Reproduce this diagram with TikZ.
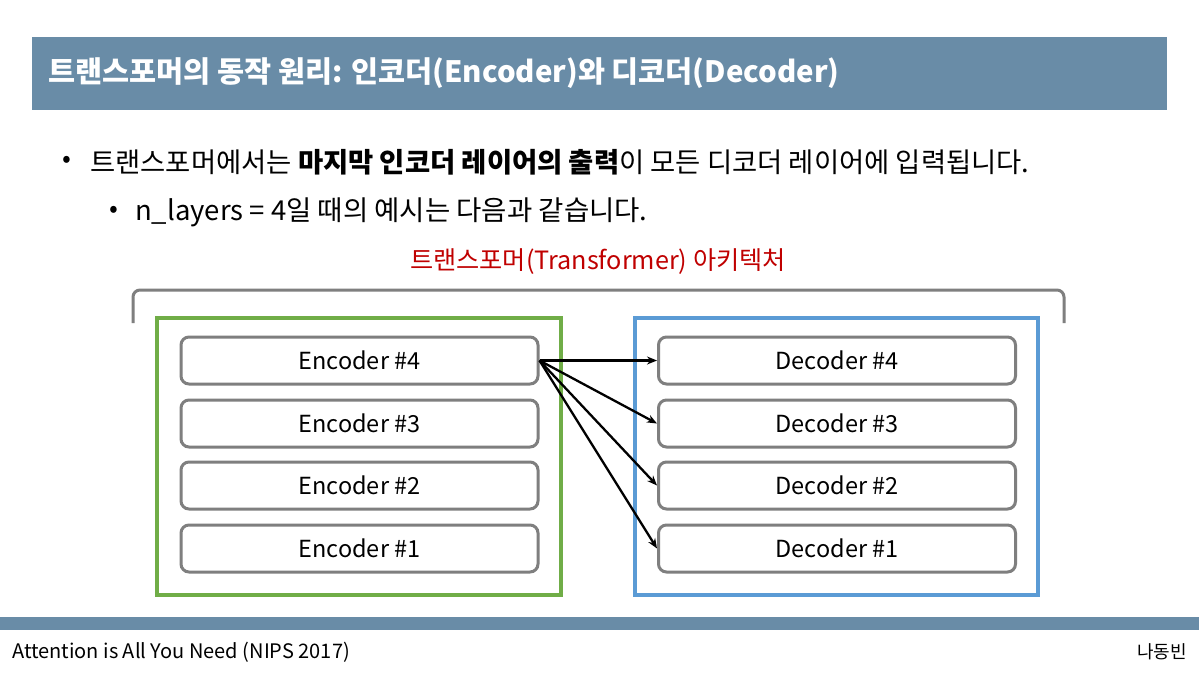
\documentclass[tikz,border=0pt]{standalone}
\usepackage{fontspec}
\setmainfont{Noto Sans CJK KR}
\usetikzlibrary{arrows.meta}
\definecolor{barblue}{HTML}{698CA7}
\definecolor{encgreen}{HTML}{70AD47}
\definecolor{decblue}{HTML}{5B9BD5}
\definecolor{boxgray}{HTML}{7F7F7F}
\definecolor{labred}{HTML}{C00000}
\newcommand{\fs}[1]{\fontsize{#1}{#1}\selectfont}
\begin{document}
\begin{tikzpicture}[x=1pt,y=-1pt,
  layerbox/.style={draw=boxgray,line width=3pt,rounded corners=8pt,minimum width=357pt,minimum height=47pt,inner sep=0pt,font=\fs{23.5}},
  conn/.style={line width=2.3pt,-{Stealth[length=10pt,width=8pt]}},
  bulletdot/.style={anchor=center,font=\fs{26},inner sep=0pt}]
\useasboundingbox (0,0) rectangle (1199,672);
\fill[white] (0,0) rectangle (1199,672);
% title bar
\fill[barblue] (32,37) rectangle (1167,110);
\node[anchor=west,text=white,font=\fs{29.4}\bfseries,inner sep=0pt] (title) at (48,73) {트랜스포머의 동작 원리: 인코더(Encoder)와 디코더(Decoder)};
% bullets
\node[bulletdot] (b1) at (67,162) {•};
\node[anchor=west,inner sep=0pt,font=\fs{27.4}] (t1) at (90,162) {트랜스포머에서는 \textbf{마지막 인코더 레이어의 출력}이 모든 디코더 레이어에 입력됩니다.};
\node[bulletdot] (b2) at (114,212) {•};
\node[anchor=west,inner sep=0pt,font=\fs{27.5}] (t2) at (135,212) {n\_layers = 4일 때의 예시는 다음과 같습니다.};
% red label
\node[text=labred,font=\fs{25.2},inner sep=0pt] (lab) at (598,262) {트랜스포머(Transformer) 아키텍처};
% bracket
\coordinate (brl) at (133,323);
\coordinate (brr) at (1064,323);
\draw[boxgray,line width=3pt,rounded corners=7pt] (brl) -- (133,290) -- (1064,290) -- (brr);
% containers
\draw[encgreen,line width=4pt] (157,318) rectangle (561,595);
\draw[decblue,line width=4pt] (635,318) rectangle (1038,595);
% layers
\node[layerbox] (e4) at (359.5,360.5) {Encoder \#4};
\node[layerbox] (e3) at (359.5,423.5) {Encoder \#3};
\node[layerbox] (e2) at (359.5,485.5) {Encoder \#2};
\node[layerbox] (e1) at (359.5,548.5) {Encoder \#1};
\node[layerbox] (d4) at (837,360.5) {Decoder \#4};
\node[layerbox] (d3) at (837,423.5) {Decoder \#3};
\node[layerbox] (d2) at (837,485.5) {Decoder \#2};
\node[layerbox] (d1) at (837,548.5) {Decoder \#1};
% connectors
\foreach \d in {d4,d3,d2,d1}{\draw[conn] (e4.east) -- (\d.west);}
% footer
\fill[barblue] (0,617) rectangle (1199,630);
\node[anchor=west,inner sep=0pt,font=\fs{20}] (f1) at (12,652) {Attention is All You Need (NIPS 2017)};
\node[anchor=east,inner sep=0pt,font=\fs{18}] (f2) at (1187,652) {나동빈};
\end{tikzpicture}
\end{document}
